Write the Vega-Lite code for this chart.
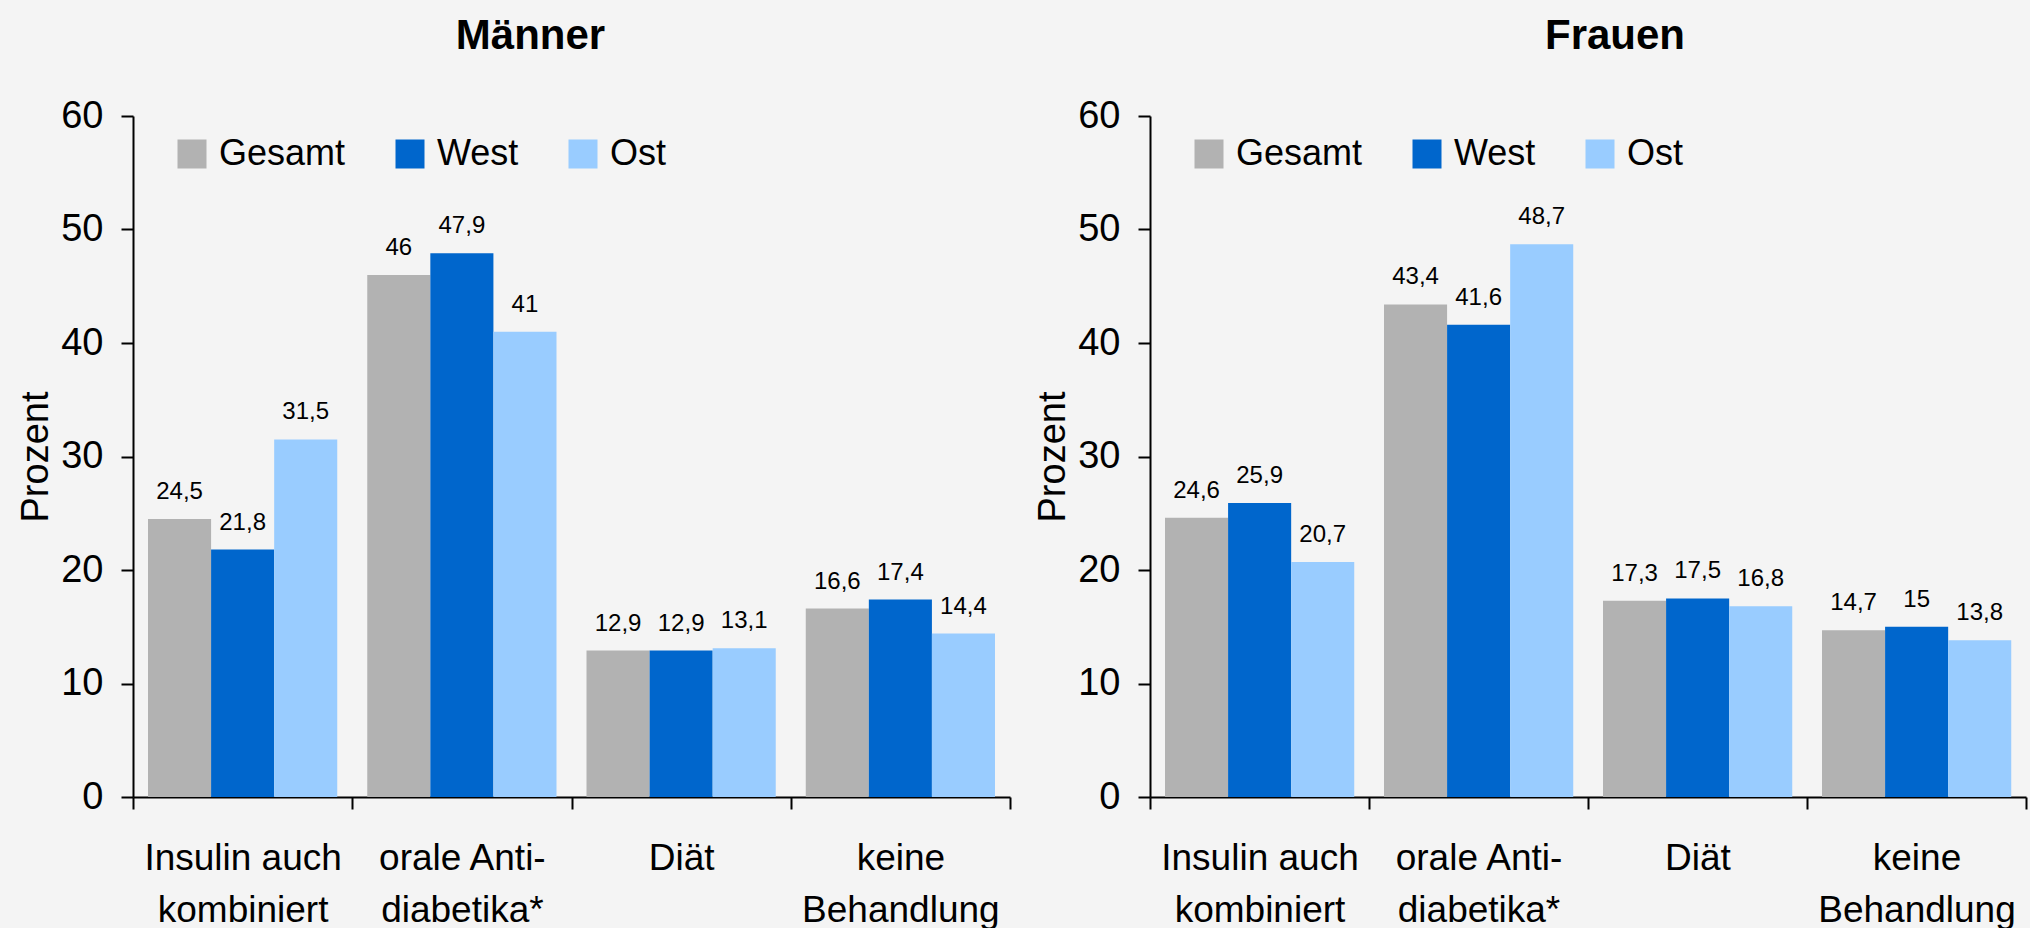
{
  "$schema": "https://vega.github.io/schema/vega-lite/v6.json",
  "background": "#f4f4f4",
  "padding": {"left": 17, "top": 15, "right": 3, "bottom": 0},
  "config": {
    "locale": {"number": {"decimal": ",", "thousands": ".", "grouping": [3], "currency": ["", " €"]}},
    "font": "Liberation Sans",
    "view": {"stroke": null},
    "concat": {"spacing": 23},
    "axis": {
      "domainColor": "#000000", "domainWidth": 2,
      "tickColor": "#000000", "tickWidth": 2, "tickSize": 12,
      "labelColor": "#000000", "titleColor": "#000000",
      "labelFont": "Liberation Sans", "titleFont": "Liberation Sans",
      "grid": false
    },
    "legend": {
      "labelFont": "Liberation Sans", "labelColor": "#000000"
    },
    "title": {
      "font": "Liberation Sans", "fontWeight": "bold", "fontSize": 42,
      "color": "#000000", "frame": "group", "anchor": "middle",
      "baseline": "alphabetic", "offset": 39
    }
  },
  "data": {"values": [
    {"panel": "Männer", "cat": "Insulin auch kombiniert", "region": "Gesamt", "value": 24.5},
    {"panel": "Männer", "cat": "Insulin auch kombiniert", "region": "West", "value": 21.8},
    {"panel": "Männer", "cat": "Insulin auch kombiniert", "region": "Ost", "value": 31.5},
    {"panel": "Männer", "cat": "orale Anti-diabetika*", "region": "Gesamt", "value": 46},
    {"panel": "Männer", "cat": "orale Anti-diabetika*", "region": "West", "value": 47.9},
    {"panel": "Männer", "cat": "orale Anti-diabetika*", "region": "Ost", "value": 41},
    {"panel": "Männer", "cat": "Diät", "region": "Gesamt", "value": 12.9},
    {"panel": "Männer", "cat": "Diät", "region": "West", "value": 12.9},
    {"panel": "Männer", "cat": "Diät", "region": "Ost", "value": 13.1},
    {"panel": "Männer", "cat": "keine Behandlung", "region": "Gesamt", "value": 16.6},
    {"panel": "Männer", "cat": "keine Behandlung", "region": "West", "value": 17.4},
    {"panel": "Männer", "cat": "keine Behandlung", "region": "Ost", "value": 14.4},
    {"panel": "Frauen", "cat": "Insulin auch kombiniert", "region": "Gesamt", "value": 24.6},
    {"panel": "Frauen", "cat": "Insulin auch kombiniert", "region": "West", "value": 25.9},
    {"panel": "Frauen", "cat": "Insulin auch kombiniert", "region": "Ost", "value": 20.7},
    {"panel": "Frauen", "cat": "orale Anti-diabetika*", "region": "Gesamt", "value": 43.4},
    {"panel": "Frauen", "cat": "orale Anti-diabetika*", "region": "West", "value": 41.6},
    {"panel": "Frauen", "cat": "orale Anti-diabetika*", "region": "Ost", "value": 48.7},
    {"panel": "Frauen", "cat": "Diät", "region": "Gesamt", "value": 17.3},
    {"panel": "Frauen", "cat": "Diät", "region": "West", "value": 17.5},
    {"panel": "Frauen", "cat": "Diät", "region": "Ost", "value": 16.8},
    {"panel": "Frauen", "cat": "keine Behandlung", "region": "Gesamt", "value": 14.7},
    {"panel": "Frauen", "cat": "keine Behandlung", "region": "West", "value": 15},
    {"panel": "Frauen", "cat": "keine Behandlung", "region": "Ost", "value": 13.8}
  ]},
  "resolve": {"legend": {"color": "independent"}},
  "hconcat": [
    {
      "title": {"text": "Männer", "dx": -41},
      "width": 877, "height": 681,
      "transform": [{"filter": "datum.panel === 'Männer'"}],
      "encoding": {
        "x": {
          "field": "cat", "type": "nominal",
          "sort": ["Insulin auch kombiniert", "orale Anti-diabetika*", "Diät", "keine Behandlung"],
          "scale": {"paddingInner": 0, "paddingOuter": 0},
          "axis": {
            "title": null, "labelAngle": 0, "labelFontSize": 37, "labelLineHeight": 52,
            "labelPadding": 31, "labelLimit": 400, "tickBand": "extent",
            "labelExpr": "datum.value === 'Insulin auch kombiniert' ? ['Insulin auch', 'kombiniert'] : datum.value === 'orale Anti-diabetika*' ? ['orale Anti-', 'diabetika*'] : datum.value === 'keine Behandlung' ? ['keine', 'Behandlung'] : datum.value"
          }
        },
        "xOffset": {
          "field": "region", "type": "nominal", "sort": ["Gesamt", "West", "Ost"],
          "scale": {"paddingOuter": 0.238, "paddingInner": 0}
        },
        "y": {
          "field": "value", "type": "quantitative",
          "scale": {"domain": [0, 60], "nice": false},
          "axis": {
            "title": "Prozent", "titleFontSize": 38, "titleFontWeight": "normal", "titlePadding": 5,
            "labelFontSize": 38, "labelPadding": 18, "values": [0, 10, 20, 30, 40, 50, 60]
          }
        }
      },
      "layer": [
        {
          "mark": {"type": "bar"},
          "encoding": {
            "color": {
              "field": "region", "type": "nominal", "sort": ["Gesamt", "West", "Ost"],
              "scale": {"domain": ["Gesamt", "West", "Ost"], "range": ["#b2b2b2", "#0066cc", "#99ccff"]},
              "legend": {
                "title": null, "orient": "none", "legendX": 41, "legendY": 20, "direction": "horizontal",
                "symbolType": "square", "symbolSize": 841, "symbolStrokeWidth": 0, "symbolOpacity": 1,
                "labelFontSize": 36, "labelOffset": 9, "columnPadding": 46, "padding": 0, "labelLimit": 300
              }
            }
          }
        },
        {
          "mark": {"type": "text", "dy": -20, "baseline": "alphabetic", "fontSize": 24, "color": "#000000"},
          "encoding": {"text": {"field": "value", "type": "quantitative", "format": ".3~r"}}
        }
      ]
    },
    {
      "title": {"text": "Frauen", "dx": 27},
      "width": 876, "height": 681,
      "transform": [{"filter": "datum.panel === 'Frauen'"}],
      "encoding": {
        "x": {
          "field": "cat", "type": "nominal",
          "sort": ["Insulin auch kombiniert", "orale Anti-diabetika*", "Diät", "keine Behandlung"],
          "scale": {"paddingInner": 0, "paddingOuter": 0},
          "axis": {
            "title": null, "labelAngle": 0, "labelFontSize": 37, "labelLineHeight": 52,
            "labelPadding": 31, "labelLimit": 400, "tickBand": "extent",
            "labelExpr": "datum.value === 'Insulin auch kombiniert' ? ['Insulin auch', 'kombiniert'] : datum.value === 'orale Anti-diabetika*' ? ['orale Anti-', 'diabetika*'] : datum.value === 'keine Behandlung' ? ['keine', 'Behandlung'] : datum.value"
          }
        },
        "xOffset": {
          "field": "region", "type": "nominal", "sort": ["Gesamt", "West", "Ost"],
          "scale": {"paddingOuter": 0.238, "paddingInner": 0}
        },
        "y": {
          "field": "value", "type": "quantitative",
          "scale": {"domain": [0, 60], "nice": false},
          "axis": {
            "title": "Prozent", "titleFontSize": 38, "titleFontWeight": "normal", "titlePadding": 5,
            "labelFontSize": 38, "labelPadding": 18, "values": [0, 10, 20, 30, 40, 50, 60]
          }
        }
      },
      "layer": [
        {
          "mark": {"type": "bar"},
          "encoding": {
            "color": {
              "field": "region", "type": "nominal", "sort": ["Gesamt", "West", "Ost"],
              "scale": {"domain": ["Gesamt", "West", "Ost"], "range": ["#b2b2b2", "#0066cc", "#99ccff"]},
              "legend": {
                "title": null, "orient": "none", "legendX": 41, "legendY": 20, "direction": "horizontal",
                "symbolType": "square", "symbolSize": 841, "symbolStrokeWidth": 0, "symbolOpacity": 1,
                "labelFontSize": 36, "labelOffset": 9, "columnPadding": 46, "padding": 0, "labelLimit": 300
              }
            }
          }
        },
        {
          "mark": {"type": "text", "dy": -20, "baseline": "alphabetic", "fontSize": 24, "color": "#000000"},
          "encoding": {"text": {"field": "value", "type": "quantitative", "format": ".3~r"}}
        }
      ]
    }
  ]
}
